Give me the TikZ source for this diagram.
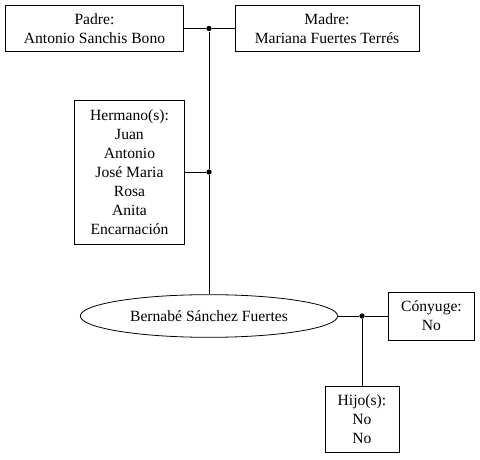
\documentclass[tikz,border=0pt]{standalone}
\usepackage{fontspec}
\setmainfont{Liberation Serif}
\usetikzlibrary{shapes.geometric}
\tikzset{
  caja/.style={draw,align=center,inner sep=0pt,font=\fontsize{11.7}{14.25}\selectfont},
  punto/.style={circle,fill,inner sep=0pt,minimum size=4pt}
}
\begin{document}
\begin{tikzpicture}[x=0.75pt,y=-0.75pt,line width=0.6pt]
  \useasboundingbox (0,0) rectangle (480,460);

  % Padres
  \node[caja,minimum width=134pt,minimum height=35pt] (padre) at (94.5,28.5) {Padre:\\Antonio Sanchis Bono};
  \node[caja,minimum width=138pt,minimum height=35pt] (madre) at (327,28.5) {Madre:\\Mariana Fuertes Terrés};
  \node[punto] (upadres) at (209,28.5) {};

  % Hermanos
  \node[caja,minimum width=83pt,minimum height=108pt] (hermanos) at (129.5,172) {Hermano(s):\\Juan\\Antonio\\José Maria\\Rosa\\Anita\\Encarnación};
  \node[punto] (uhermanos) at (209,172) {};

  % Persona
  \node[caja,ellipse,minimum width=193pt,minimum height=32pt] (persona) at (209,316) {Bernabé Sánchez Fuertes};

  % Conyuge e hijos
  \node[caja,minimum width=65pt,minimum height=36pt] (conyuge) at (431.5,316) {Cónyuge:\\No};
  \node[punto] (uconyuge) at (362,316) {};
  \node[caja,minimum width=55.5pt,minimum height=50pt] (hijos) at (362,419.5) {Hijo(s):\\No\\No};

  % Lineas
  \draw (padre) -- (upadres) -- (madre);
  \draw (upadres) -- (uhermanos) -- (persona);
  \draw (hermanos) -- (uhermanos);
  \draw (persona) -- (uconyuge) -- (conyuge);
  \draw (uconyuge) -- (hijos);
\end{tikzpicture}
\end{document}
